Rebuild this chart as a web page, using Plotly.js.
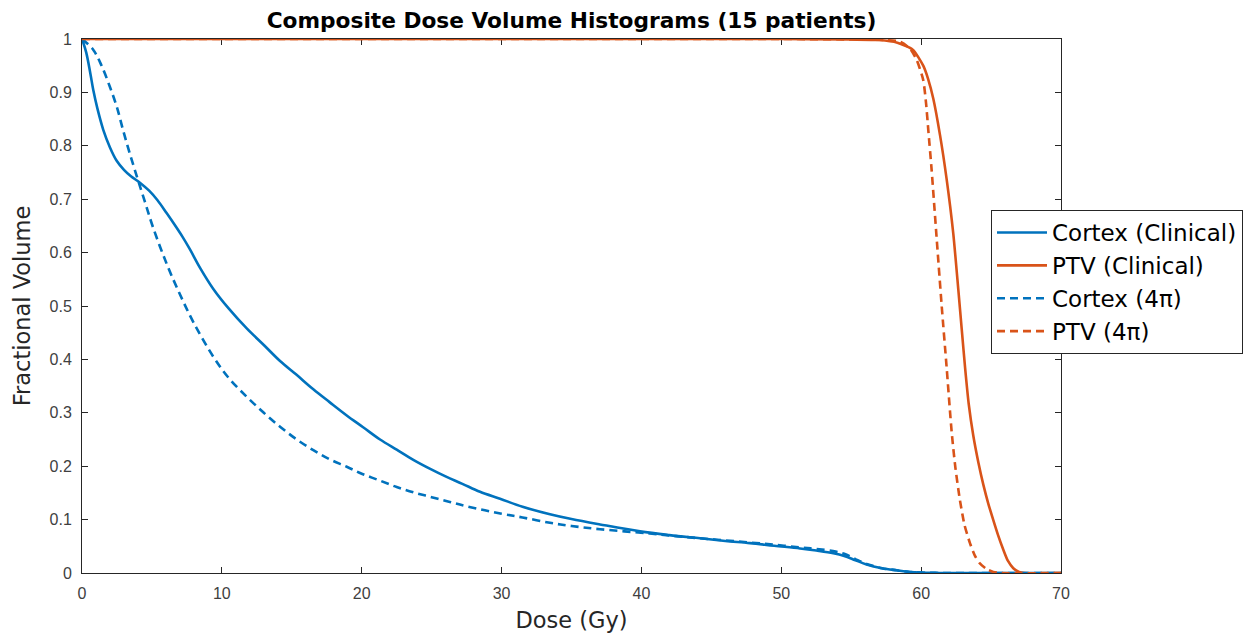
<!DOCTYPE html>
<html>
<head>
<meta charset="utf-8">
<script src="https://cdn.plot.ly/plotly-3.0.1.min.js"></script>
<style>
  html, body { margin: 0; padding: 0; background: #ffffff; }
  #chart { width: 1243px; height: 639px; }
</style>
</head>
<body>
<div id="chart"></div>
<script>
// ---- Data ----
const cortexClinicalDose = [0, 0.3, 0.6, 0.81, 1.1, 1.52, 2.0, 2.48, 3.0, 3.5, 4.14, 4.8, 5.4, 6.05, 6.6, 7.2, 7.72, 8.43, 9.39, 10.5, 11.78, 13, 14.16, 15.3, 16.54, 17.7, 18.93, 20.1, 21.31, 22.5, 23.69, 24.9, 26.07, 27.2, 28.46, 29.89, 31.5, 33.46, 35, 37.04, 39.9, 42, 44.19, 46, 47.76, 49.5, 51.34, 52.5, 53.72, 54.5, 55.3, 56.1, 57.2, 58.25, 59.2, 60, 61, 62, 70];
const cortexClinicalVol  = [1.0, 0.975, 0.935, 0.904, 0.87, 0.83, 0.797, 0.772, 0.755, 0.743, 0.731, 0.716, 0.698, 0.674, 0.653, 0.629, 0.606, 0.572, 0.532, 0.495, 0.458, 0.427, 0.397, 0.372, 0.344, 0.32, 0.295, 0.273, 0.25, 0.231, 0.212, 0.195, 0.18, 0.167, 0.152, 0.139, 0.124, 0.11, 0.101, 0.091, 0.078, 0.071, 0.065, 0.06, 0.056, 0.051, 0.046, 0.042, 0.037, 0.032, 0.024, 0.016, 0.009, 0.005, 0.002, 0.0008, 0.0002, 0, 0];

const cortex4piDose = [0, 0.8, 1.4, 2.0, 2.5, 2.93, 3.4, 3.93, 4.5, 5.07, 6.07, 7.0, 7.96, 9.39, 10.5, 11.78, 13, 14.16, 15.3, 16.54, 17.7, 18.93, 20, 21.3, 22.5, 23.7, 25, 26.3, 27.5, 30, 31.5, 33.46, 35, 37.04, 40.6, 42.5, 44.2, 46, 47.8, 49.5, 51.3, 52.5, 53.7, 54.5, 55.3, 56.1, 57.2, 58.25, 59.2, 60, 61, 62, 70];
const cortex4piVol  = [1.0, 0.98, 0.95, 0.91, 0.872, 0.83, 0.787, 0.742, 0.695, 0.648, 0.578, 0.522, 0.47, 0.405, 0.365, 0.33, 0.3, 0.274, 0.251, 0.23, 0.213, 0.199, 0.186, 0.173, 0.161, 0.151, 0.142, 0.133, 0.125, 0.111, 0.104, 0.094, 0.088, 0.082, 0.074, 0.069, 0.065, 0.061, 0.057, 0.053, 0.048, 0.045, 0.041, 0.036, 0.026, 0.017, 0.009, 0.005, 0.002, 0.0008, 0.0002, 0, 0];

const ptvClinicalDose = [0, 50, 55, 57, 58.3, 59.4, 60.15, 60.5, 60.87, 61.35, 61.82, 62.3, 62.66, 62.9, 63.14, 63.4, 63.73, 64.1, 64.45, 64.8, 65.16, 65.5, 65.87, 66.2, 66.59, 67, 67.4, 70];
const ptvClinicalVol  = [1, 1, 0.999, 0.998, 0.993, 0.98, 0.95, 0.925, 0.888, 0.82, 0.738, 0.635, 0.53, 0.457, 0.385, 0.317, 0.257, 0.206, 0.165, 0.13, 0.099, 0.071, 0.044, 0.023, 0.009, 0.002, 0, 0];

const ptv4piDose = [0, 50, 56, 57.5, 58.49, 59.2, 59.68, 60.15, 60.35, 60.51, 60.75, 61.1, 61.47, 61.82, 62.18, 62.45, 62.77, 63.1, 63.49, 63.85, 64.2, 64.7, 65.16, 65.6, 70];
const ptv4piVol  = [1, 1, 0.999, 0.998, 0.995, 0.982, 0.961, 0.923, 0.88, 0.83, 0.755, 0.63, 0.5, 0.386, 0.265, 0.197, 0.137, 0.09, 0.056, 0.032, 0.018, 0.007, 0.002, 0, 0];

const seriesNames = ["Cortex (Clinical)", "PTV (Clinical)", "Cortex (4\u03c0)", "PTV (4\u03c0)"];
const xTickVals = [0, 10, 20, 30, 40, 50, 60, 70];
const yTickVals = [0, 0.1, 0.2, 0.3, 0.4, 0.5, 0.6, 0.7, 0.8, 0.9, 1];
const yTickText = ["0", "0.1", "0.2", "0.3", "0.4", "0.5", "0.6", "0.7", "0.8", "0.9", "1"];

const BLUE = "#0072BD";
const ORANGE = "#D95319";
const LW = 2.6;
const DASH = "8px,5px";

const traces = [
  { x: cortexClinicalDose, y: cortexClinicalVol, name: seriesNames[0], mode: "lines",
    line: { color: BLUE, width: LW, shape: "spline", smoothing: 1 } },
  { x: ptvClinicalDose, y: ptvClinicalVol, name: seriesNames[1], mode: "lines",
    line: { color: ORANGE, width: LW, shape: "spline", smoothing: 0.6 } },
  { x: cortex4piDose, y: cortex4piVol, name: seriesNames[2], mode: "lines",
    line: { color: BLUE, width: LW, dash: DASH, shape: "spline", smoothing: 1 } },
  { x: ptv4piDose, y: ptv4piVol, name: seriesNames[3], mode: "lines",
    line: { color: ORANGE, width: LW, dash: DASH, shape: "spline", smoothing: 0.6 } }
];

const FONT = "Liberation Sans, Arial, Helvetica, sans-serif";
const WFONT = "DejaVu Sans, Liberation Sans, Arial, sans-serif";
const AXC = "#262626";

const layout = {
  width: 1243, height: 639,
  paper_bgcolor: "#ffffff", plot_bgcolor: "#ffffff",
  margin: { l: 82, r: 182, t: 39, b: 66, pad: 0, autoexpand: false },
  font: { family: FONT, color: AXC },
  title: {
    text: "<b>Composite Dose Volume Histograms (15 patients)</b>",
    font: { family: WFONT, size: 21.7, color: "#000000" },
    x: 0.5, xref: "paper", xanchor: "center",
    y: 1 - 20 / 639, yref: "container", yanchor: "middle"
  },
  xaxis: {
    range: [0, 70], tickvals: xTickVals, ticks: "inside", ticklen: 6, tickcolor: AXC,
    showline: true, linecolor: AXC, linewidth: 1, mirror: "ticks",
    showgrid: false, zeroline: false, layer: "below traces", automargin: false,
    tickfont: { family: FONT, size: 16, color: "#404040" },
    ticklabelstandoff: 6,
    title: { text: "Dose (Gy)", font: { family: WFONT, size: 22.5, color: "#262626" }, standoff: 11 }
  },
  yaxis: {
    range: [0, 1], tickvals: yTickVals, ticktext: yTickText, ticks: "inside", ticklen: 6, tickcolor: AXC,
    showline: true, linecolor: AXC, linewidth: 1, mirror: "ticks",
    showgrid: false, zeroline: false, layer: "below traces", automargin: false,
    tickfont: { family: FONT, size: 16, color: "#404040" },
    ticklabelstandoff: 6,
    title: { text: "Fractional Volume", font: { family: WFONT, size: 22.5, color: "#262626" }, standoff: 12 }
  },
  showlegend: true,
  legend: {
    x: (991 - 82) / 979, xanchor: "left", xref: "paper",
    y: (573 - 210) / 534, yanchor: "top", yref: "paper",
    bgcolor: "#ffffff", bordercolor: "#262626", borderwidth: 1,
    font: { family: WFONT, size: 23, color: "#000000" },
    tracegroupgap: 0, itemwidth: 50
  }
};

Plotly.newPlot("chart", traces, layout, { displayModeBar: false, staticPlot: true });
</script>
</body>
</html>
